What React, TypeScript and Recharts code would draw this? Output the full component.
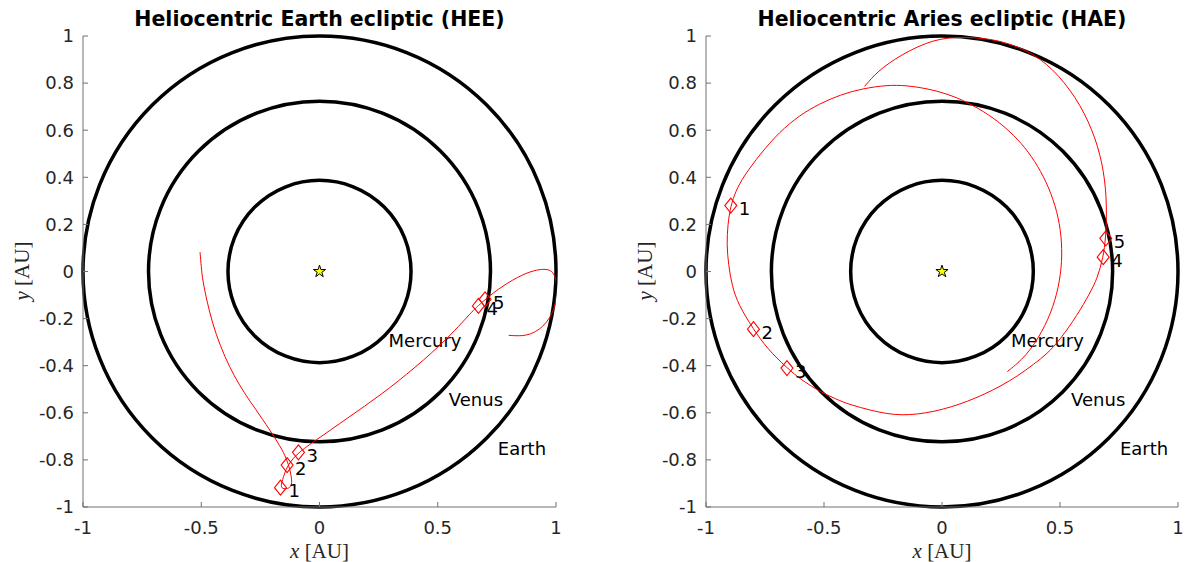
import React from 'react'
import { ScatterChart, Scatter, XAxis, YAxis, ReferenceArea, Symbols } from 'recharts'

// axis ticks
const X_TICKS = [-1, -0.5, 0, 0.5, 1]
const Y_TICKS = [-1, -0.8, -0.6, -0.4, -0.2, 0, 0.2, 0.4, 0.6, 0.8, 1]

// planet orbits (AU) and where their names sit
const PLANETS = ['Mercury', 'Venus', 'Earth']
const ORBIT_RADII = [0.387, 0.723, 1.0]
const PLANET_LABEL_X = [0.292, 0.547, 0.754]
const PLANET_LABEL_Y = [-0.292, -0.544, -0.753]

// numbered markers
const MARKER_LABELS = ['1', '2', '3', '4', '5']
const HEE_MARK_X = [-0.165, -0.137, -0.089, 0.672, 0.7]
const HEE_MARK_Y = [-0.918, -0.822, -0.768, -0.146, -0.118]
const HAE_MARK_X = [-0.895, -0.799, -0.657, 0.683, 0.694]
const HAE_MARK_Y = [0.28, -0.245, -0.41, 0.061, 0.141]

// trajectory, Heliocentric Earth ecliptic
const HEE_TRACK_X = [
  -0.505, -0.5, -0.494, -0.475, -0.452, -0.42, -0.381, -0.34, -0.297, -0.24,
  -0.186, -0.15, -0.13, -0.12, -0.116, -0.124, -0.145, -0.165, -0.158, -0.137,
  -0.089, -0.023, 0.119, 0.261, 0.404, 0.546, 0.66, 0.672, 0.7, 0.774,
  0.86, 0.92, 0.96, 0.988, 1.002, 1.005, 0.995, 0.975, 0.945, 0.904,
  0.86, 0.8,
]
const HEE_TRACK_Y = [
  0.082, 0.02, -0.038, -0.13, -0.222, -0.315, -0.405, -0.48, -0.547, -0.628,
  -0.71, -0.77, -0.822, -0.864, -0.9, -0.918, -0.925, -0.918, -0.89, -0.822,
  -0.768, -0.722, -0.622, -0.523, -0.409, -0.281, -0.153, -0.146, -0.118, -0.061,
  -0.011, 0.008, 0.011, 0.0, -0.04, -0.09, -0.153, -0.195, -0.235, -0.262,
  -0.275, -0.271,
]

// trajectory, Heliocentric Aries ecliptic
const HAE_TRACK_X = [
  0.277, 0.357, 0.426, 0.472, 0.5, 0.51, 0.503, 0.481, 0.443, 0.393,
  0.337, 0.272, 0.2, 0.107, 0.02, -0.063, -0.15, -0.233, -0.34, -0.43,
  -0.52, -0.601, -0.69, -0.771, -0.84, -0.875, -0.895, -0.908, -0.912, -0.905,
  -0.89, -0.863, -0.799, -0.742, -0.657, -0.59, -0.516, -0.45, -0.389, -0.3,
  -0.233, -0.171, -0.105, -0.035, 0.04, 0.107, 0.18, 0.25, 0.32, 0.39,
  0.445, 0.5, 0.574, 0.625, 0.659, 0.683, 0.694, 0.699, 0.687, 0.652,
  0.588, 0.496, 0.39, 0.248, 0.093, -0.035, -0.176, -0.275, -0.328,
]
const HAE_TRACK_Y = [
  -0.425, -0.36, -0.255, -0.15, -0.04, 0.07, 0.18, 0.28, 0.38, 0.47,
  0.545, 0.61, 0.665, 0.72, 0.755, 0.777, 0.79, 0.792, 0.776, 0.751,
  0.712, 0.665, 0.592, 0.498, 0.405, 0.34, 0.28, 0.2, 0.113, 0.03,
  -0.06, -0.141, -0.245, -0.326, -0.41, -0.465, -0.51, -0.542, -0.566, -0.59,
  -0.604, -0.61, -0.606, -0.595, -0.575, -0.552, -0.521, -0.486, -0.444, -0.393,
  -0.35, -0.29, -0.184, -0.095, -0.028, 0.061, 0.141, 0.283, 0.425, 0.566,
  0.708, 0.835, 0.927, 0.984, 0.998, 0.988, 0.92, 0.849, 0.786,
]

const toPoints = (xs: number[], ys: number[]) => xs.map((x, i) => ({ x, y: ys[i] }))

const SUN = [{ x: 0, y: 0 }]
const planetLabels = PLANETS.map((name, i) => ({ x: PLANET_LABEL_X[i], y: PLANET_LABEL_Y[i], name }))
const marks = (xs: number[], ys: number[]) =>
  xs.map((x, i) => ({ x, y: ys[i], name: MARKER_LABELS[i] }))

const AXIS_COLOR = '#262626'
const TICK_STYLE = { fontFamily: 'DejaVu Sans', fontSize: 18, fill: AXIS_COLOR }
const AXIS_LINE = { stroke: '#707070', strokeWidth: 1 }

function OrbitShape(props: any) {
  const { x, y, width, height } = props
  return (
    <ellipse
      cx={x + width / 2}
      cy={y + height / 2}
      rx={Math.abs(width) / 2}
      ry={Math.abs(height) / 2}
      fill="none"
      stroke="#000"
      strokeWidth={3.5}
    />
  )
}

function NoDot() {
  return <g />
}

function DiamondMark(props: any) {
  const { cx, cy, payload } = props
  const w = 6
  const h = 7.5
  return (
    <g>
      <polygon
        points={`${cx},${cy - h} ${cx + w},${cy} ${cx},${cy + h} ${cx - w},${cy}`}
        fill="none"
        stroke="#ff0000"
        strokeWidth={1.1}
      />
      <text x={cx + 8} y={cy + 9.5} fontFamily="DejaVu Sans" fontSize={18} fill="#000">
        {payload.name}
      </text>
    </g>
  )
}

function SunShape(props: any) {
  const { cx, cy } = props
  return <Symbols cx={cx} cy={cy} type="star" size={46} fill="#ffff00" stroke="#000" strokeWidth={1} />
}

function PlanetLabel(props: any) {
  const { cx, cy, payload } = props
  return (
    <text x={cx} y={cy} dominantBaseline="central" fontFamily="DejaVu Sans" fontSize={18} fill="#000">
      {payload.name}
    </text>
  )
}

interface PanelProps {
  title: string
  track: { x: number; y: number }[]
  markers: { x: number; y: number; name: string }[]
  left: number
  width: number
  axisWidth: number
  rightMargin: number
  yLabelX: number
}

function OrbitPanel({ title, track, markers, left, width, axisWidth, rightMargin, yLabelX }: PanelProps) {
  const plotWidth = width - axisWidth - rightMargin
  return (
    <div style={{ position: 'absolute', left, top: 0, width, height: 562 }}>
      <ScatterChart width={width} height={562} margin={{ top: 36, right: rightMargin, bottom: 0, left: 0 }}>
        <XAxis
          type="number"
          dataKey="x"
          domain={[-1, 1]}
          ticks={X_TICKS}
          interval={0}
          allowDataOverflow
          height={55}
          tickSize={-5}
          tickMargin={19}
          tick={TICK_STYLE}
          axisLine={AXIS_LINE}
          tickLine={AXIS_LINE}
        />
        <YAxis
          type="number"
          dataKey="y"
          domain={[-1, 1]}
          ticks={Y_TICKS}
          interval={0}
          allowDataOverflow
          width={axisWidth}
          tickSize={-5}
          tickMargin={14}
          tick={TICK_STYLE}
          axisLine={AXIS_LINE}
          tickLine={AXIS_LINE}
        />
        {ORBIT_RADII.map((r) => (
          <ReferenceArea key={r} x1={-r} x2={r} y1={-r} y2={r} ifOverflow="visible" shape={OrbitShape} />
        ))}
        <Scatter data={planetLabels} shape={PlanetLabel} isAnimationActive={false} />
        <Scatter
          data={track}
          line={{ stroke: '#ff0000', strokeWidth: 1 }}
          lineJointType="basis"
          shape={NoDot}
          isAnimationActive={false}
        />
        <Scatter data={markers} shape={DiamondMark} isAnimationActive={false} />
        <Scatter data={SUN} shape={SunShape} isAnimationActive={false} />
      </ScatterChart>

      {/* title */}
      <div
        style={{
          position: 'absolute',
          left: axisWidth - 60,
          width: plotWidth + 120,
          top: 7,
          lineHeight: '24px',
          textAlign: 'center',
          fontFamily: 'DejaVu Sans',
          fontWeight: 'bold',
          fontSize: 20.5,
          color: '#000',
          whiteSpace: 'nowrap',
        }}
      >
        {title}
      </div>

      {/* x label */}
      <div
        style={{
          position: 'absolute',
          left: axisWidth,
          width: plotWidth,
          top: 538,
          lineHeight: '26px',
          textAlign: 'center',
          fontFamily: 'Liberation Serif',
          fontSize: 21,
          color: AXIS_COLOR,
        }}
      >
        <i>x</i> [AU]
      </div>

      {/* y label */}
      <div
        style={{
          position: 'absolute',
          left: yLabelX - 60,
          width: 120,
          top: 271 - 13,
          lineHeight: '26px',
          textAlign: 'center',
          fontFamily: 'Liberation Serif',
          fontSize: 21,
          color: AXIS_COLOR,
          transform: 'rotate(-90deg)',
        }}
      >
        <i>y</i> [AU]
      </div>
    </div>
  )
}

export default function App() {
  return (
    <div
      style={{
        position: 'absolute',
        left: 0,
        top: 0,
        width: 1192,
        height: 562,
        background: '#fff',
        overflow: 'hidden',
      }}
    >
      <OrbitPanel
        title="Heliocentric Earth ecliptic (HEE)"
        track={toPoints(HEE_TRACK_X, HEE_TRACK_Y)}
        markers={marks(HEE_MARK_X, HEE_MARK_Y)}
        left={0}
        width={600}
        axisWidth={83}
        rightMargin={44}
        yLabelX={22}
      />
      <OrbitPanel
        title="Heliocentric Aries ecliptic (HAE)"
        track={toPoints(HAE_TRACK_X, HAE_TRACK_Y)}
        markers={marks(HAE_MARK_X, HAE_MARK_Y)}
        left={600}
        width={592}
        axisWidth={106}
        rightMargin={14}
        yLabelX={45}
      />
    </div>
  )
}
